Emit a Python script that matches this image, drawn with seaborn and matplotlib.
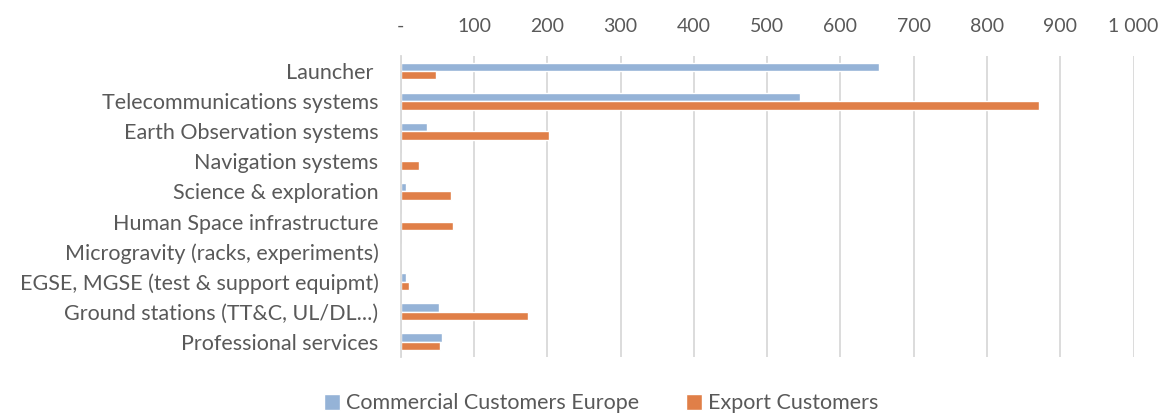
import pandas as pd
import numpy as np
import matplotlib
matplotlib.use('Agg')
import matplotlib.pyplot as plt
import seaborn as sns

# Chart data
categories = ['Launcher ', 'Telecommunications systems', 'Earth Observation systems',
              'Navigation systems', 'Science & exploration', 'Human Space infrastructure',
              'Microgravity (racks, experiments)', 'EGSE, MGSE (test & support equipmt)',
              'Ground stations (TT&C, UL/DL...)', 'Professional services']
commercial_europe = [652, 545, 36, 2, 7, 1, 0, 7, 52, 56]
export_customers = [48, 871, 203, 25, 68, 72, 1, 12, 174, 53]
series_names = ['Commercial Customers Europe', 'Export Customers']
tick_values = [0, 100, 200, 300, 400, 500, 600, 700, 800, 900, 1000]
tick_labels = ['-', '100', '200', '300', '400', '500', '600', '700', '800', '900', '1 000']

colors = ['#95b3d7', '#e07f48']
text_color = '#595959'

df = pd.DataFrame({
    'category': categories * 2,
    'value': commercial_europe + export_customers,
    'series': [series_names[0]] * len(categories) + [series_names[1]] * len(categories),
})

sns.set_theme(style='white')
plt.rcParams['font.family'] = ['Lato', 'DejaVu Sans']

fig = plt.figure(figsize=(11.58, 4.18), dpi=100)
ax = fig.add_axes([0.346, 0.146, 0.633, 0.72])

sns.barplot(data=df, x='value', y='category', hue='series', order=categories,
            hue_order=series_names, palette=colors, orient='h', width=0.56,
            saturation=1, ax=ax, legend=True)

ax.set_xlim(0, 1000)
ax.set_xticks(tick_values)
ax.set_xticklabels(tick_labels)
ax.xaxis.tick_top()
ax.set_xlabel('')
ax.set_ylabel('')
ax.grid(axis='x', color='#d9d9d9', linewidth=1.3)
ax.set_axisbelow(True)
for s in ['top', 'right', 'bottom']:
    ax.spines[s].set_visible(False)
ax.spines['left'].set_color('#d9d9d9')
ax.spines['left'].set_linewidth(1.3)
ax.tick_params(axis='x', length=0, pad=15, labelsize=14, labelcolor=text_color)
ax.tick_params(axis='y', length=0, pad=16, labelsize=15.5, labelcolor=text_color)

handles, labels = ax.get_legend_handles_labels()
ax.get_legend().remove()
fig.legend(handles, labels, loc='lower center', bbox_to_anchor=(0.519, -0.035), ncol=2,
           frameon=False, handlelength=0.75, handleheight=0.75, handletextpad=0.25,
           columnspacing=2.2, fontsize=15.5, labelcolor=text_color)

fig.savefig('out.png', dpi=100)
